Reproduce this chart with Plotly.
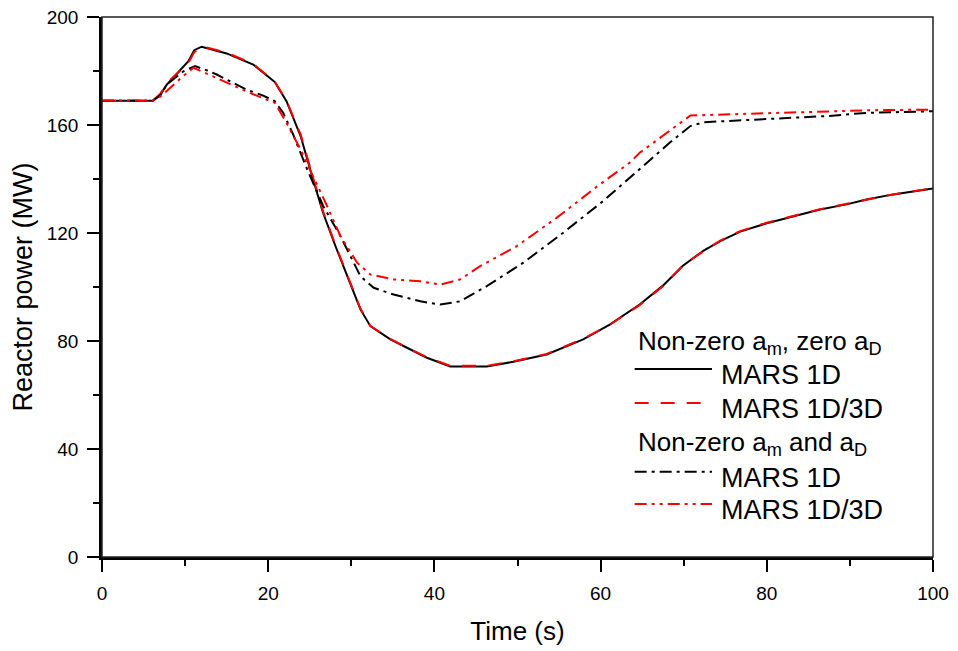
import plotly.graph_objects as go

# --- data (time in s, reactor power in MW) ---
t_1d_zero = [0, 6.1, 7.0, 7.8, 10.4, 11.1, 12.0, 15.0, 18.2, 20.8, 22.2, 23.9, 25.4, 26.6, 28.1,
             29.5, 31.1, 32.3, 34.7, 36.7, 39.1, 41.9, 46.3, 49.5, 53.5, 57.9, 61.1, 64.7, 67.5,
             69.9, 72.4, 74.4, 76.8, 80.0, 83.2, 86.4, 89.6, 92.0, 95.2, 98.4, 100]
p_1d_zero = [169, 169, 171, 175, 183.6, 187.7, 189, 186.5, 182.4, 175.9, 168.8, 155.9, 139.8, 127.5,
             115.1, 104, 91.7, 85.5, 80.6, 77.5, 73.8, 70.6, 70.6, 72.3, 75, 80.6, 86.1, 93.5, 100.5,
             107.9, 113.5, 117, 120.5, 123.6, 126.2, 128.7, 130.6, 132.4, 134.3, 135.9, 136.5]

t_3d_zero = t_1d_zero
p_3d_zero = [169, 169, 171.5, 175.5, 183, 187, 189.2, 186.8, 182.6, 176, 169, 156.5, 140.5, 128,
             115.5, 104.5, 92, 85.5, 80.8, 77.5, 74, 70.8, 70.8, 72.5, 75.2, 80.8, 86, 93.3, 100.3,
             108, 113.3, 117.2, 120.7, 123.8, 126.4, 128.8, 130.8, 132.4, 134.3, 135.8, 136.6]

t_1d_both = [0, 6.1, 7.0, 7.8, 9.8, 11.2, 12.4, 13.8, 15.4, 17.4, 19.4, 20.8, 21.8, 23.0, 24.7,
             26.6, 28.7, 29.9, 31.1, 32.7, 35.1, 38.3, 40.7, 43.1, 46.3, 50.7, 55.5, 60.3, 63.5,
             65.5, 68.3, 70.8, 72.4, 74.8, 80.8, 87.2, 92, 100]
p_1d_both = [169, 169, 171, 175, 179.9, 181.8, 180.5, 178.7, 176.2, 173.1, 170.9, 168.8, 164.5,
             156.5, 143.5, 130.1, 118.8, 111.4, 104, 99.7, 97.2, 94.7, 93.5, 94.7, 100.3, 109,
             120.1, 131.8, 140.4, 146, 153.4, 159.6, 161, 161.4, 162.3, 163.3, 164.5, 165.1]

t_3d_both = [0, 6.1, 7.0, 8.6, 10.0, 11.0, 12.4, 13.6, 15.4, 17.8, 19.8, 20.8, 22.2, 23.8, 25.4,
             27.1, 28.7, 30.7, 32.3, 35.1, 38.3, 40.7, 43.1, 45.5, 49.9, 54.7, 59.9, 63.5, 64.7,
             67.9, 70.8, 74.8, 80, 85.6, 92.8, 100]
p_3d_both = [169, 169, 170.5, 175, 178.7, 181.2, 179.3, 177.5, 175, 171.9, 169.4, 168.2, 160.8,
             151.5, 141, 129.9, 118.8, 109, 104.6, 102.8, 102.1, 100.9, 102.8, 107.7, 115.1, 125.6,
             138, 146, 149.7, 157.1, 163.5, 163.9, 164.3, 164.7, 165.5, 165.7]

FONT = "Liberation Sans, Arial, sans-serif"
DASH = "14px,12px"
DASHDOT = "12px,5px,3px,5px"
DASHDOTDOT = "12px,5px,3px,5px,3px,5px"

series = [
    (t_1d_zero, p_1d_zero, "black", "solid"),
    (t_3d_zero, p_3d_zero, "red", DASH),
    (t_1d_both, p_1d_both, "black", DASHDOT),
    (t_3d_both, p_3d_both, "red", DASHDOTDOT),
]

fig = go.Figure()
for t, p, col, dash in series:
    fig.add_trace(go.Scatter(x=t, y=p, mode="lines", showlegend=False,
                             line=dict(color=col, width=2, dash=dash)))

# hand-made legend (long line samples like the original)
legend_rows = [
    ("header", "Non-zero a<sub>m</sub>, zero a<sub>D</sub>", 0.397, None, None),
    ("item", "MARS 1D", 0.343, "black", "solid"),
    ("item", "MARS 1D/3D", 0.280, "red", DASH),
    ("header", "Non-zero a<sub>m</sub> and a<sub>D</sub>", 0.211, None, None),
    ("item", "MARS 1D", 0.153, "black", DASHDOT),
    ("item", "MARS 1D/3D", 0.093, "red", DASHDOTDOT),
]
for kind, text, y, col, dash in legend_rows:
    if kind == "header":
        fig.add_annotation(x=0.642, y=y, xref="paper", yref="paper", text=text,
                           showarrow=False, xanchor="left", yanchor="middle",
                           font=dict(family=FONT, size=26, color="black"))
    else:
        fig.add_shape(type="line", xref="paper", yref="paper", x0=0.641, x1=0.734,
                      y0=y + 0.005, y1=y + 0.005, line=dict(color=col, width=2, dash=dash))
        fig.add_annotation(x=0.743, y=y - 0.006, xref="paper", yref="paper", text=text,
                           showarrow=False, xanchor="left", yanchor="middle",
                           font=dict(family=FONT, size=27, color="black"))

# thin frame on top / right
fig.add_shape(type="rect", xref="paper", yref="paper", x0=0, x1=1, y0=0, y1=1,
              line=dict(color="#222", width=1.5), layer="above")

axis_common = dict(showline=True, linecolor="black", linewidth=2.5, ticks="outside",
                   ticklen=12, tickwidth=2, tickcolor="black", showgrid=False, zeroline=False,
                   automargin=False, ticklabeloverflow="allow",
                   tickfont=dict(family=FONT, size=19, color="black"), ticklabelstandoff=5)

fig.update_xaxes(range=[0, 100], dtick=20,
                 minor=dict(dtick=10, ticks="outside", ticklen=6, tickwidth=2, tickcolor="black"),
                 title=dict(text="Time (s)", font=dict(family=FONT, size=26, color="black"),
                            standoff=20),
                 **axis_common)
fig.update_yaxes(range=[0, 200], dtick=40,
                 minor=dict(dtick=20, ticks="outside", ticklen=6, tickwidth=2, tickcolor="black"),
                 title=dict(text="Reactor power (MW)", font=dict(family=FONT, size=27, color="black"),
                            standoff=14),
                 **axis_common)

# page body keeps its default 8px margin, so size and margins are trimmed to match
fig.update_layout(width=950, height=643, margin=dict(l=94, r=25, t=9, b=94),
                  plot_bgcolor="white", paper_bgcolor="white")

fig.write_html("out.html")
